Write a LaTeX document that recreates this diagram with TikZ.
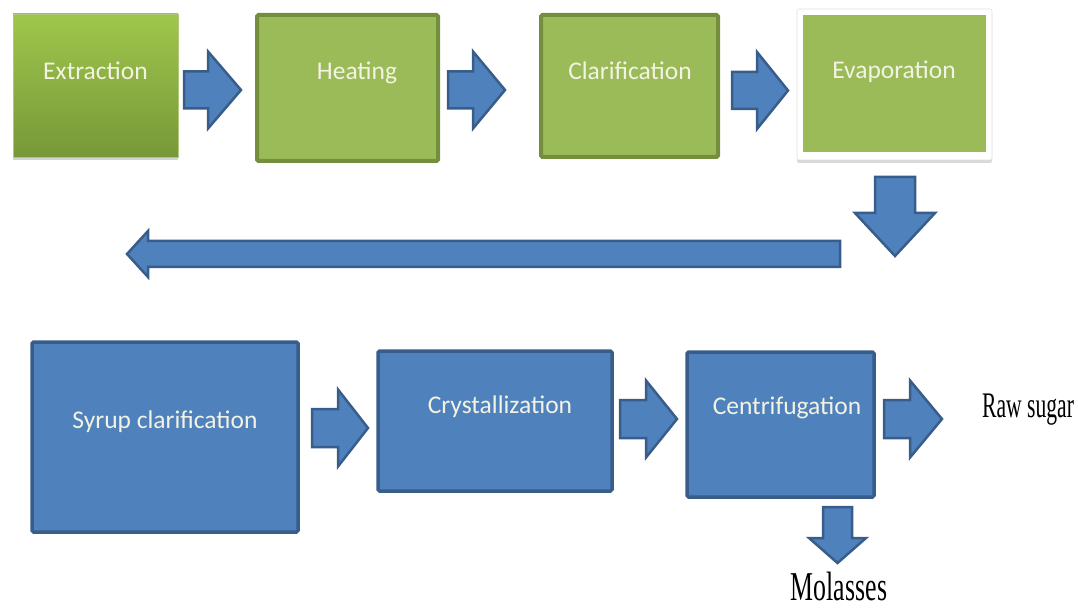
\documentclass[tikz,border=0pt]{standalone}
\usepackage{fontspec}
\setmainfont{Carlito}
\newfontfamily\tnr{Liberation Serif}
\usetikzlibrary{shadows}
\definecolor{gfill}{HTML}{9BBB59}
\definecolor{gline}{HTML}{748E3E}
\definecolor{gtop}{HTML}{9FC64C}
\definecolor{gbot}{HTML}{779838}
\definecolor{bfill}{HTML}{4F81BD}
\definecolor{bline}{HTML}{385D8A}
\definecolor{txt}{HTML}{F3F3E3}
\tikzset{
  greenbox/.style={draw=gline, line width=4pt, fill=gfill, rounded corners=1.5pt},
  bluebox/.style={draw=bline, line width=3.5pt, fill=bfill, rounded corners=1.5pt},
  boxtext/.style={text=txt, font=\fontsize{25.5}{30}\selectfont, inner sep=0pt},
  blockarrow/.style={draw=bline, line width=2.5pt, fill=bfill, line join=miter},
  outtext/.style={font=\tnr, inner sep=0pt, text=black}
}
% right arrow: x1, x2 (tip), xhead, yc, shaft half, head half
\newcommand{\rarr}[6]{\path[blockarrow] (#1,#4-#5) -- (#3,#4-#5) -- (#3,#4-#6) -- (#2,#4) -- (#3,#4+#6) -- (#3,#4+#5) -- (#1,#4+#5) -- cycle;}
% down arrow: xc, y1, y2 (tip), yhead, shaft half, head half
\newcommand{\darr}[6]{\path[blockarrow] (#1-#5,#2) -- (#1+#5,#2) -- (#1+#5,#4) -- (#1+#6,#4) -- (#1,#3) -- (#1-#6,#4) -- (#1-#5,#4) -- cycle;}
\begin{document}
\begin{tikzpicture}[x=1pt,y=-1pt]
\useasboundingbox (0,0) rectangle (1078,609);
% top row
\path[top color=gtop, bottom color=gbot, draw=gfill!80!white, line width=0.8pt,
  drop shadow={shadow xshift=0pt, shadow yshift=-3pt, opacity=0.35}]
  (13,14) rectangle (178,157);
\node[boxtext] (ext) at (95.5,71) {Extraction};
\path[greenbox] (257,15) rectangle (438,161);
\node[boxtext] (heat) at (357,73) {Heating};
\path[greenbox] (541,15) rectangle (718,157);
\node[boxtext] (clar) at (630,71) {Clarification};
\path[fill=white, draw=black!12, line width=0.6pt, drop shadow={shadow xshift=0pt, shadow yshift=-3pt, opacity=0.3}, rounded corners=2pt] (797,9) rectangle (992,160);
\path[fill=gfill] (803,15) rectangle (986,152);
\node[boxtext] (evap) at (894,72) {Evaporation};
\rarr{184}{241}{208}{90}{18.5}{38.5}
\rarr{448}{505}{473}{90}{18.5}{38.5}
\rarr{732}{788}{757}{90.5}{18.5}{38.5}
\darr{895}{177}{256}{213}{20}{40}
% long left arrow
\path[blockarrow] (840,241) -- (148,241) -- (148,231) -- (127,254) -- (148,277) -- (148,267) -- (840,267) -- cycle;
% bottom row
\path[bluebox] (32,342) rectangle (298,532);
\node[boxtext] (syr) at (165,422) {Syrup clarification};
\path[bluebox] (378,351) rectangle (612,491);
\node[boxtext] (cry) at (500,407) {Crystallization};
\path[bluebox] (687,352) rectangle (874,497);
\node[boxtext] (cen) at (787,408) {Centrifugation};
\rarr{312}{368}{338}{428}{19}{38.5}
\rarr{620}{677}{646}{419}{19}{38.5}
\rarr{884}{942}{910}{419}{19}{38.5}
\darr{837.5}{507}{563}{538}{14.5}{28.5}
\node[outtext, anchor=base west] (raw) at (982,417) {\scalebox{0.6}[1]{\fontsize{36}{40}\selectfont Raw sugar}};
\node[outtext, anchor=base] (mol) at (839,600) {\scalebox{0.63}[1]{\fontsize{41}{45}\selectfont Molasses}};
\end{tikzpicture}
\end{document}
